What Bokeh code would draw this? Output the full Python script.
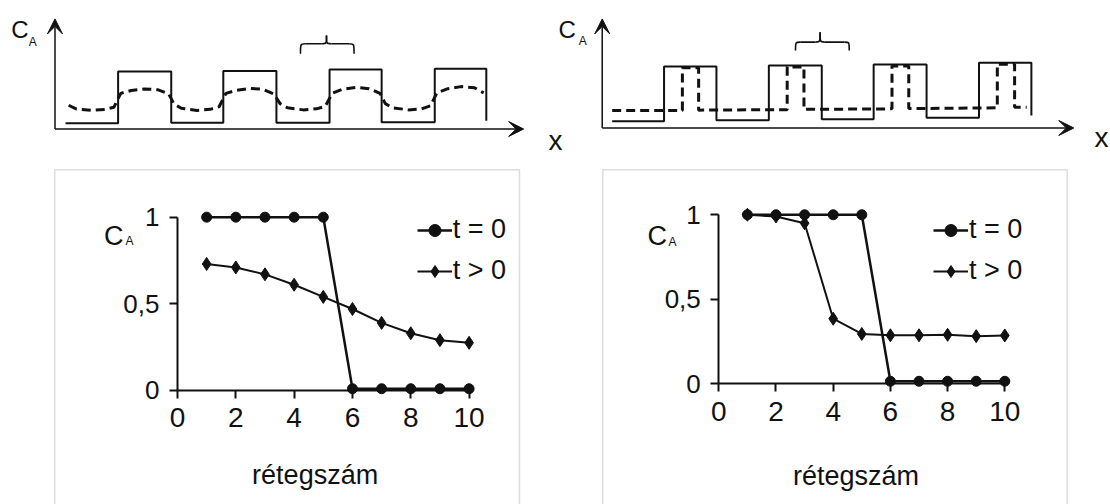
from bokeh.plotting import figure
from bokeh.models import (Range1d, Arrow, VeeHead, Label, BoxAnnotation, FixedTicker,
                          Legend, LegendItem)
from bokeh.layouts import column, row
from bokeh.embed import file_html
from bokeh.resources import INLINE

FONT = "Liberation Sans"
INK = "#111111"
BOX = "#8e8e8e"

# ---------------- bottom charts: data ----------------
layers = [1, 2, 3, 4, 5, 6, 7, 8, 9, 10]
left_t0 = [1.0, 1.0, 1.0, 1.0, 1.0, 0.01, 0.01, 0.01, 0.01, 0.01]
left_t1 = [0.73, 0.71, 0.67, 0.61, 0.54, 0.47, 0.39, 0.33, 0.29, 0.275]
right_t0 = [1.0, 1.0, 1.0, 1.0, 1.0, 0.015, 0.015, 0.015, 0.015, 0.015]
right_t1 = [1.0, 0.99, 0.95, 0.385, 0.295, 0.287, 0.287, 0.29, 0.282, 0.286]
series_labels = ["t = 0", "t > 0"]
x_ticks = [0, 2, 4, 6, 8, 10]
y_ticks = [0, 0.5, 1]
y_tick_labels = ["0", "0,5", "1"]
x_title = "rétegszám"

# ---------------- top schematics: profiles ----------------
wave_left_x = [0.20, 1.20, 2.21, 3.20, 4.21, 5.22, 6.21, 7.22, 8.20]
wave_left_y = [0.11, 1.11, 0.12, 1.12, 0.12, 1.15, 0.13, 1.165, 0.16]
dash_left_x = [0.26, 0.40, 0.70, 0.95, 1.12, 1.25, 1.45, 1.70, 1.95, 2.16,
               2.26, 2.40, 2.70, 2.95, 3.12, 3.25, 3.45, 3.70, 3.95, 4.16,
               4.28, 4.42, 4.72, 4.97, 5.14, 5.27, 5.47, 5.72, 5.97, 6.18,
               6.28, 6.42, 6.72, 6.97, 7.14, 7.26, 7.47, 7.72, 7.97, 8.15]
dash_left_y = [0.46, 0.39, 0.36, 0.38, 0.42, 0.69, 0.745, 0.775, 0.76, 0.68,
               0.49, 0.40, 0.36, 0.38, 0.43, 0.69, 0.75, 0.785, 0.77, 0.68,
               0.49, 0.41, 0.37, 0.39, 0.44, 0.69, 0.77, 0.805, 0.78, 0.69,
               0.49, 0.41, 0.37, 0.39, 0.45, 0.70, 0.78, 0.82, 0.80, 0.70]
wave_right_x = [0.19, 1.18, 2.18, 3.18, 4.19, 5.18, 6.19, 7.19, 8.19]
wave_right_y = [0.13, 1.19, 0.15, 1.21, 0.17, 1.23, 0.20, 1.26, 0.24]
dash_right_x = [0.19, 1.53, 1.53, 1.84, 1.84, 3.53, 3.53, 3.85, 3.85,
                5.53, 5.53, 5.85, 5.85, 7.54, 7.54, 7.87, 7.87, 8.10]
dash_right_y = [0.34, 0.34, 1.165, 1.165, 0.345, 0.355, 1.18, 1.18, 0.36,
                0.37, 1.20, 1.20, 0.375, 0.39, 1.235, 1.235, 0.40, 0.40]
# braces: left end, right end, tip x, foot y, bar y, tip y
brace_left = [4.667, 5.686, 5.162, 1.455, 1.648, 1.809]
brace_right = [3.689, 4.714, 4.158, 1.499, 1.660, 1.853]
# axis arrows: x-axis end, y-axis end
arrows_left = [8.91, 2.13]
arrows_right = [9.00, 2.11]

# ---------------- top figure (both schematics) ----------------
top = figure(width=1110, height=160, x_range=Range1d(-1.036, 20.067),
             y_range=Range1d(-0.609, 2.4855), x_axis_type=None, y_axis_type=None,
             toolbar_location=None, output_backend="svg", min_border=0,
             outline_line_color=None)
top.extra_x_ranges = {"rx": Range1d(-11.483, 9.700)}
top.extra_y_ranges = {"ry": Range1d(-0.629, 2.466)}


def brace(fig, b, xn, yn):
    xl, xr, xc, yf, yb, yt = b
    r = 0.09
    x0 = [xl, xl + r, xc - r, xc, xc + r, xr - r]
    y0 = [yf, yb, yb, yt, yb, yb]
    x1 = [xl + r, xc - r, xc, xc + r, xr - r, xr]
    y1 = [yb, yb, yt, yb, yb, yf]
    cx0 = [xl, xl + r, xc, xc, xc + r, xr]
    cy0 = [yb, yb, yb, yb, yb, yb]
    cx1 = [xl, xc - r, xc, xc, xr - r, xr]
    cy1 = [yb, yb, yb, yb, yb, yb]
    fig.bezier(x0=x0, y0=y0, x1=x1, y1=y1, cx0=cx0, cy0=cy0, cx1=cx1, cy1=cy1,
               line_color=INK, line_width=1.6, x_range_name=xn, y_range_name=yn)


for (wx, wy, dx, dy, br_, ar, xn, yn) in [
        (wave_left_x, wave_left_y, dash_left_x, dash_left_y, brace_left, arrows_left, "default", "default"),
        (wave_right_x, wave_right_y, dash_right_x, dash_right_y, brace_right, arrows_right, "rx", "ry")]:
    top.step(wx, wy, mode="after", line_color=INK, line_width=2,
             x_range_name=xn, y_range_name=yn)
    top.line(dx, dy, line_color=INK, line_width=3, line_dash="9 5",
             x_range_name=xn, y_range_name=yn)
    brace(top, br_, xn, yn)
    top.add_layout(Arrow(x_start=0, y_start=0, x_end=ar[0], y_end=0, line_color=INK,
                         line_width=1.5, x_range_name=xn, y_range_name=yn,
                         end=VeeHead(size=15, fill_color=INK, line_color=INK, line_width=1)))
    top.add_layout(Arrow(x_start=0, y_start=0, x_end=0, y_end=ar[1], line_color=INK,
                         line_width=1.5, x_range_name=xn, y_range_name=yn,
                         end=VeeHead(size=15, fill_color=INK, line_color=INK, line_width=1)))

for (cx, cy, ax_, ay, xx, xy, xn, yn) in [
        (-0.83, 1.93, -0.50, 1.69, 9.515, -0.213, "default", "default"),
        (-0.835, 1.905, -0.45, 1.683, 9.53, -0.193, "rx", "ry")]:
    top.add_layout(Label(x=cx, y=cy, text="C", text_font=FONT, text_font_size="24px",
                         text_baseline="middle", text_align="left", text_color=INK,
                         x_range_name=xn, y_range_name=yn))
    top.add_layout(Label(x=ax_, y=ay, text="A", text_font=FONT, text_font_size="12px",
                         text_baseline="middle", text_align="left", text_color=INK,
                         x_range_name=xn, y_range_name=yn))
    top.add_layout(Label(x=xx, y=xy, text="x", text_font=FONT, text_font_size="28px",
                         text_baseline="middle", text_align="center", text_color=INK,
                         x_range_name=xn, y_range_name=yn))


# ---------------- bottom charts ----------------
def chart(t0, t1, width, xr, yr, box, c_pos, a_pos, title_pos, legend_loc):
    p = figure(width=width, height=344, x_range=Range1d(*xr), y_range=Range1d(*yr),
               toolbar_location=None, output_backend="svg", min_border=0,
               outline_line_color=None)
    p.grid.visible = False
    p.xaxis.fixed_location = 0
    p.yaxis.fixed_location = 0
    p.xaxis.bounds = (0, 10)
    p.yaxis.bounds = (0, 1)
    p.xaxis.ticker = FixedTicker(ticks=x_ticks, minor_ticks=[])
    p.yaxis.ticker = FixedTicker(ticks=y_ticks, minor_ticks=[])
    p.yaxis.major_label_overrides = dict(zip(y_ticks, y_tick_labels))
    for ax in (p.xaxis[0], p.yaxis[0]):
        ax.axis_line_width = 2
        ax.axis_line_color = INK
        ax.major_tick_line_width = 2
        ax.major_tick_line_color = INK
        ax.major_tick_in = 0
        ax.major_tick_out = 8
        ax.minor_tick_line_color = None
        ax.major_label_text_font = FONT
        ax.major_label_text_color = INK
    p.xaxis.major_label_text_font_size = "28px"
    p.yaxis.major_label_text_font_size = "26px"
    p.xaxis.major_label_standoff = 10
    p.yaxis.major_label_standoff = 10
    p.yaxis.major_label_orientation = "horizontal"

    p.add_layout(BoxAnnotation(left=box[0], right=box[1], top=box[2], bottom=yr[0] - 1,
                               fill_color=None, line_color=BOX, line_width=1.5))

    l0 = p.line(layers, t0, line_color=INK, line_width=2.5)
    m0 = p.scatter(layers, t0, marker="circle", size=10, color=INK)
    l1 = p.line(layers, t1, line_color=INK, line_width=2)
    m1 = p.scatter(layers, t1, marker="diamond", size=13, color=INK)

    legend = Legend(items=[LegendItem(label=series_labels[0], renderers=[l0, m0]),
                           LegendItem(label=series_labels[1], renderers=[l1, m1])],
                    location=legend_loc, orientation="vertical", border_line_color=None,
                    background_fill_alpha=0, padding=0, margin=0, spacing=10,
                    glyph_width=35, glyph_height=30, label_height=30, label_standoff=1,
                    label_text_font=FONT, label_text_font_size="27px",
                    label_text_color=INK)
    p.add_layout(legend)

    p.add_layout(Label(x=c_pos[0], y=c_pos[1], text="C", text_font=FONT,
                       text_font_size="27px", text_baseline="middle", text_align="left",
                       text_color=INK))
    p.add_layout(Label(x=a_pos[0], y=a_pos[1], text="A", text_font=FONT,
                       text_font_size="12px", text_baseline="middle", text_align="left",
                       text_color=INK))
    p.add_layout(Label(x=title_pos[0], y=title_pos[1], text=x_title, text_font=FONT,
                       text_font_size="27px", text_baseline="middle", text_align="center",
                       text_color=INK))
    return p


bl = chart(left_t0, left_t1, 561, (-6.07, 13.169), (-0.658, 1.327),
           (-4.208, 11.728, 1.2735), (-2.52, 0.894), (-1.78, 0.86), (4.72, -0.49),
           (416.7, 218.0))
br = chart(right_t0, right_t1, 549, (-5.5, 13.696), (-0.714, 1.321),
           (-4.056, 12.18, 1.266), (-2.49, 0.872), (-1.76, 0.836), (4.797, -0.543),
           (372.0, 218.0))

layout = column(top, row(bl, br))
open("out.html", "w").write(file_html(layout, INLINE))
